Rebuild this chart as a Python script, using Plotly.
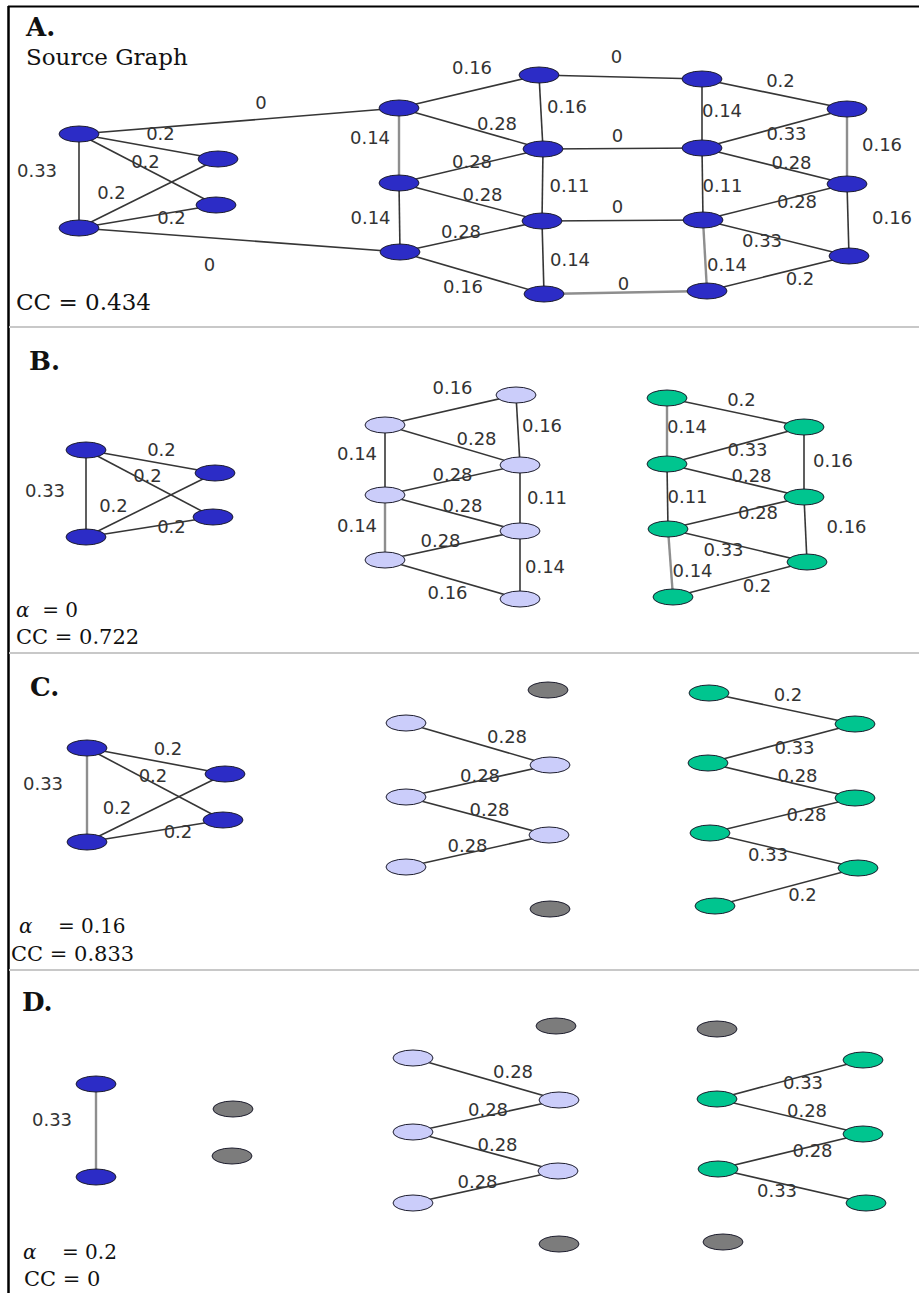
import plotly.graph_objects as go

# ---------------- source graph (three communities, zero-weight bridges) ----------------
edge_from = ["a", "a", "a", "b", "b", "a", "b",
             "m1", "m1", "m1", "m2", "m2", "m2", "m3", "m3", "n1", "n2", "n3",
             "n1", "n2", "n3", "n4",
             "p1", "p1", "p2", "p2", "p2", "p3", "q1", "q2", "p3", "p3", "p4"]
edge_to = ["b", "c", "d", "c", "d", "m1", "m3",
           "n1", "n2", "m2", "n2", "n3", "m3", "n3", "n4", "n2", "n3", "n4",
           "p1", "p2", "p3", "p4",
           "q1", "p2", "q1", "q2", "p3", "q2", "q2", "q3", "q3", "p4", "q3"]
edge_weight = [0.33, 0.2, 0.2, 0.2, 0.2, 0.0, 0.0,
               0.16, 0.28, 0.14, 0.28, 0.28, 0.14, 0.28, 0.16, 0.16, 0.11, 0.14,
               0.0, 0.0, 0.0, 0.0,
               0.2, 0.14, 0.33, 0.28, 0.11, 0.28, 0.16, 0.16, 0.33, 0.14, 0.2]

node_ids = ["a", "b", "c", "d",
            "m1", "m2", "m3", "n1", "n2", "n3", "n4",
            "p1", "p2", "p3", "p4", "q1", "q2", "q3"]
node_community = ["blue"] * 4 + ["lavender"] * 7 + ["green"] * 7

# one panel per threshold; None = the unfiltered source graph
panel_letter = ["A.", "B.", "C.", "D."]
panel_alpha = [None, 0, 0.16, 0.2]
panel_cc = [0.434, 0.722, 0.833, 0]

# ---------------- drawing layout (pixel space) ----------------
pos = [
    {"a": (79, 134), "b": (79, 228), "c": (218, 159), "d": (216, 205),
     "m1": (399, 108), "m2": (399, 183), "m3": (400, 252),
     "n1": (539, 75), "n2": (543, 149), "n3": (542, 221), "n4": (544, 294),
     "p1": (702, 79), "p2": (702, 148), "p3": (703, 220), "p4": (707, 291),
     "q1": (847, 109), "q2": (847, 184), "q3": (849, 256)},
    {"a": (86, 450), "b": (86, 537), "c": (215, 473), "d": (213, 517),
     "m1": (385, 425), "m2": (385, 495), "m3": (385, 560),
     "n1": (516, 395), "n2": (520, 465), "n3": (520, 531), "n4": (520, 599),
     "p1": (667, 398), "p2": (667, 464), "p3": (668, 529), "p4": (673, 597),
     "q1": (804, 427), "q2": (804, 497), "q3": (807, 562)},
    {"a": (87, 748), "b": (87, 842), "c": (225, 774), "d": (223, 820),
     "m1": (406, 723), "m2": (406, 797), "m3": (406, 867),
     "n1": (548, 690), "n2": (550, 765), "n3": (549, 835), "n4": (550, 909),
     "p1": (709, 693), "p2": (708, 763), "p3": (710, 833), "p4": (715, 906),
     "q1": (855, 724), "q2": (855, 798), "q3": (858, 868)},
    {"a": (96, 1084), "b": (96, 1177), "c": (233, 1109), "d": (232, 1156),
     "m1": (413, 1058), "m2": (413, 1132), "m3": (413, 1203),
     "n1": (556, 1026), "n2": (559, 1100), "n3": (558, 1171), "n4": (559, 1244),
     "p1": (717, 1029), "p2": (717, 1099), "p3": (718, 1169), "p4": (723, 1242),
     "q1": (863, 1060), "q2": (863, 1134), "q3": (866, 1203)},
]

# weight-label offsets from each edge's midpoint
label_shift = [
    {("a", "b"): (-42, -9), ("a", "c"): (12, -11), ("a", "d"): (-2, -6), ("b", "c"): (-37, 1),
     ("b", "d"): (24, 3), ("a", "m1"): (22, -17), ("b", "m3"): (-30, 26),
     ("m1", "n1"): (3, -22), ("m1", "n2"): (26, -3), ("m1", "m2"): (-29, -6), ("m2", "n2"): (1, -3),
     ("m2", "n3"): (12, -6), ("m2", "m3"): (-29, 2), ("m3", "n3"): (-10, -3), ("m3", "n4"): (-9, 15),
     ("n1", "n2"): (26, -4), ("n2", "n3"): (27, 2), ("n3", "n4"): (27, 4),
     ("n1", "p1"): (-4, -19), ("n2", "p2"): (-5, -11), ("n3", "p3"): (-5, -12), ("n4", "p4"): (-2, -7),
     ("p1", "q1"): (6, -12), ("p1", "p2"): (20, -1), ("p2", "q1"): (12, 7), ("p2", "q2"): (17, -2),
     ("p2", "p3"): (20, 3), ("p3", "q2"): (22, 1), ("q1", "q2"): (35, 0), ("q2", "q3"): (44, -1),
     ("p3", "q3"): (-14, 4), ("p3", "p4"): (22, 11), ("p4", "q3"): (22, 7)},
    {("a", "b"): (-41, -1), ("a", "c"): (11, -10), ("a", "d"): (-2, -6), ("b", "c"): (-37, 2),
     ("b", "d"): (22, 1),
     ("m1", "n1"): (2, -21), ("m1", "n2"): (24, -5), ("m1", "m2"): (-28, -5), ("m2", "n2"): (0, -4),
     ("m2", "n3"): (10, -6), ("m2", "m3"): (-28, 0), ("m3", "n3"): (-12, -3), ("m3", "n4"): (-5, 15),
     ("n1", "n2"): (24, -3), ("n2", "n3"): (27, 1), ("n3", "n4"): (25, 3),
     ("p1", "q1"): (6, -11), ("p1", "p2"): (20, -3), ("p2", "q1"): (12, 6), ("p2", "q2"): (16, -3),
     ("p2", "p3"): (20, 2), ("p3", "q2"): (22, 1), ("q1", "q2"): (29, 0), ("q2", "q3"): (41, -1),
     ("p3", "q3"): (-14, 6), ("p3", "p4"): (22, 9), ("p4", "q3"): (17, 8)},
    {("a", "b"): (-44, -10), ("a", "c"): (12, -11), ("a", "d"): (-2, -7), ("b", "c"): (-39, 1),
     ("b", "d"): (23, 2),
     ("m1", "n2"): (29, -6), ("m2", "n2"): (2, -4), ("m2", "n3"): (12, -5), ("m3", "n3"): (-10, -4),
     ("p1", "q1"): (6, -12), ("p2", "q1"): (13, 6), ("p2", "q2"): (16, -3), ("p3", "q2"): (24, 1),
     ("p3", "q3"): (-16, 6), ("p4", "q3"): (16, 9)},
    {("a", "b"): (-44, -9),
     ("m1", "n2"): (27, -6), ("m2", "n2"): (2, -5), ("m2", "n3"): (12, -5), ("m3", "n3"): (-8, -4),
     ("p2", "q1"): (13, 5), ("p2", "q2"): (17, -4), ("p3", "q2"): (22, 1), ("p3", "q3"): (-15, 6)},
]

# edges rendered with the lighter grey stroke
light_edges = [
    {("m1", "m2"), ("p3", "p4"), ("n4", "p4"), ("q1", "q2")},
    {("m2", "m3"), ("p3", "p4"), ("p1", "p2")},
    {("a", "b")},
    {("a", "b")},
]

# panel text anchors: letter, alpha line, CC line
letter_xy = [(23, 27), (27, 361), (28, 687), (20, 1002)]
alpha_xy = [None, (14, 610), (17, 926), (21, 1252)]
cc_xy = [(14, 302), (14, 637), (9, 954), (22, 1279)]

FILL = {"blue": "#2c2cc6", "lavender": "#cbcdfa", "green": "#00c58f", "none": "#7c7c7c"}
DARK_EDGE = "#363636"
LIGHT_EDGE = "#8e8e8e"
LABEL_FONT = dict(family="DejaVu Sans", size=18, color="#333333")
SERIF = "DejaVu Serif"
RX, RY = 20, 8

fig = go.Figure()
shapes = []
annotations = []

for k in range(4):
    alpha = panel_alpha[k]
    P = pos[k]
    kept = []
    for u, v, w in zip(edge_from, edge_to, edge_weight):
        if alpha is None or w > alpha:
            kept.append((u, v, w))

    # weight labels (drawn first so the edge strokes pass over them)
    lx, ly, lt = [], [], []
    for u, v, w in kept:
        (x1, y1), (x2, y2) = P[u], P[v]
        dx, dy = label_shift[k][(u, v)]
        lx.append((x1 + x2) / 2 + dx)
        ly.append((y1 + y2) / 2 + dy)
        lt.append(f"{w:g}")
    fig.add_trace(go.Scatter(x=lx, y=ly, text=lt, mode="text", textposition="middle center",
                             textfont=LABEL_FONT, hoverinfo="skip", showlegend=False))

    # edges, split by stroke tone
    for tone, color, width in (("dark", DARK_EDGE, 1.6), ("light", LIGHT_EDGE, 2.4)):
        ex, ey = [], []
        for u, v, w in kept:
            is_light = (u, v) in light_edges[k]
            if (tone == "light") != is_light:
                continue
            ex += [P[u][0], P[v][0], None]
            ey += [P[u][1], P[v][1], None]
        if ex:
            fig.add_trace(go.Scatter(x=ex, y=ey, mode="lines", line=dict(color=color, width=width),
                                     hoverinfo="skip", showlegend=False))

    # nodes: community colour, grey when no edge survives the threshold
    degree = {n: 0 for n in node_ids}
    for u, v, w in kept:
        degree[u] += 1
        degree[v] += 1
    for n, comm in zip(node_ids, node_community):
        if alpha is None:
            fill = FILL["blue"]
        else:
            fill = FILL[comm] if degree[n] > 0 else FILL["none"]
        x, y = P[n]
        shapes.append(dict(type="circle", xref="x", yref="y", x0=x - RX, x1=x + RX, y0=y - RY, y1=y + RY,
                           fillcolor=fill, line=dict(color="#1e1e2e", width=1), layer="above"))

    # panel captions
    annotations.append(dict(x=letter_xy[k][0], y=letter_xy[k][1], text=f"<b>{panel_letter[k]}</b>",
                            showarrow=False, xanchor="left", yanchor="middle",
                            font=dict(family=SERIF, size=26, color="#111111")))
    if alpha is None:
        annotations.append(dict(x=24, y=57, text="Source Graph", showarrow=False,
                                xanchor="left", yanchor="middle",
                                font=dict(family=SERIF, size=23, color="#111111")))
    else:
        sep = "\u00a0\u00a0" if alpha == 0 else "\u00a0\u00a0\u00a0\u00a0"
        annotations.append(dict(x=alpha_xy[k][0], y=alpha_xy[k][1],
                                text=f"<i>α</i>{sep}= {alpha:g}", showarrow=False,
                                xanchor="left", yanchor="middle",
                                font=dict(family=SERIF, size=20, color="#111111")))
    annotations.append(dict(x=cc_xy[k][0], y=cc_xy[k][1], text=f"CC = {panel_cc[k]:g}",
                            showarrow=False, xanchor="left", yanchor="middle",
                            font=dict(family=SERIF, size=21 if alpha is not None else 23,
                                      color="#111111")))

# frame: black top/left rules and grey panel separators
shapes.append(dict(type="line", xref="x", yref="y", x0=8.5, x1=8.5, y0=6, y1=1293,
                   line=dict(color="#000000", width=2.5), layer="below"))
shapes.append(dict(type="line", xref="x", yref="y", x0=8, x1=919, y0=6.5, y1=6.5,
                   line=dict(color="#000000", width=2), layer="below"))
for ysep in (327, 653, 970):
    shapes.append(dict(type="line", xref="x", yref="y", x0=9, x1=919, y0=ysep, y1=ysep,
                       line=dict(color="#c8c8c8", width=2), layer="below"))

fig.update_layout(
    width=919, height=1293,
    margin=dict(l=0, r=0, t=0, b=0),
    paper_bgcolor="white", plot_bgcolor="white",
    xaxis=dict(range=[0, 919], visible=False, fixedrange=True),
    yaxis=dict(range=[1293, 0], visible=False, fixedrange=True),
    shapes=shapes, annotations=annotations, showlegend=False,
)

fig.write_html("out.html", config={"displayModeBar": False})
